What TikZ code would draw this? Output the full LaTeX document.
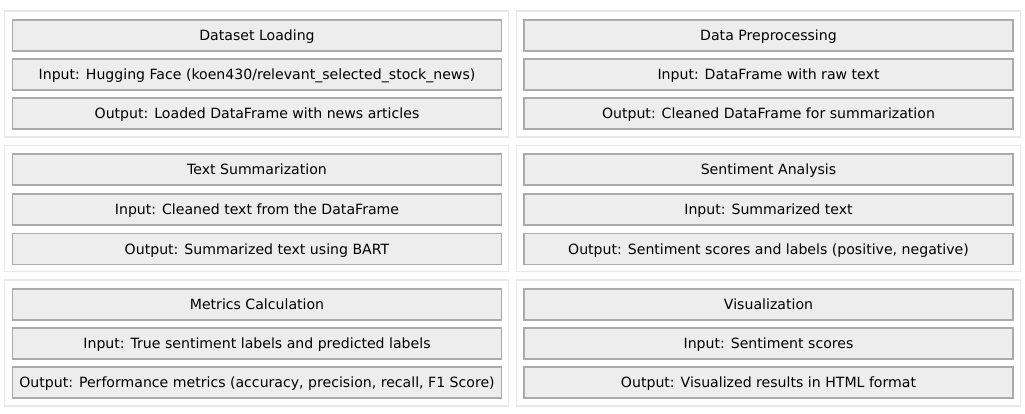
\documentclass[tikz,border=0pt]{standalone}
\usepackage{fontspec}
\setmainfont{DejaVu Sans}
\begin{document}
\begin{tikzpicture}[x=1pt,y=1pt,
  panel/.style={draw=black!9, line width=1.5pt, fill=white, minimum width=504pt, minimum height=126pt, inner sep=0pt},
  stagebox/.style={draw=black!33, line width=1.6pt, fill=black!7, minimum width=489pt, minimum height=31pt, inner sep=0pt,
    text height=10.4pt, text depth=0pt, yshift=-0.6pt, font=\fontsize{14.1}{16}\selectfont, text=black}]
\useasboundingbox[fill=white] (0,0) rectangle (1025,413);
% panel frames (centres in image coordinates: x, 413 - y)
\foreach \nm/\cx/\cy in {p1/256.5/74, p2/768.5/74, p3/256.5/208.5, p4/768.5/208.5, p5/256.5/343, p6/768.5/343}
  \node[panel] (\nm) at (\cx,413-\cy) {};
% Dataset Loading
\node[stagebox] (a1) at (257,413-35) {Dataset Loading};
\node[stagebox] (a2) at (257,413-74) {Input: Hugging Face (koen430/relevant\_selected\_stock\_news)};
\node[stagebox] (a3) at (257,413-113) {Output: Loaded DataFrame with news articles};
% Data Preprocessing
\node[stagebox] (b1) at (768.5,413-35) {Data Preprocessing};
\node[stagebox] (b2) at (768.5,413-74) {Input: DataFrame with raw text};
\node[stagebox] (b3) at (768.5,413-113) {Output: Cleaned DataFrame for summarization};
% Text Summarization
\node[stagebox] (c1) at (257,413-169) {Text Summarization};
\node[stagebox] (c2) at (257,413-209) {Input: Cleaned text from the DataFrame};
\node[stagebox] (c3) at (257,413-248.5) {Output: Summarized text using BART};
% Sentiment Analysis
\node[stagebox] (d1) at (768.5,413-169) {Sentiment Analysis};
\node[stagebox] (d2) at (768.5,413-209) {Input: Summarized text};
\node[stagebox] (d3) at (768.5,413-248.5) {Output: Sentiment scores and labels (positive, negative)};
% Metrics Calculation
\node[stagebox] (e1) at (257,413-304) {Metrics Calculation};
\node[stagebox] (e2) at (257,413-343) {Input: True sentiment labels and predicted labels};
\node[stagebox] (e3) at (257,413-382) {Output: Performance metrics (accuracy, precision, recall, F1 Score)};
% Visualization
\node[stagebox] (f1) at (768.5,413-304) {Visualization};
\node[stagebox] (f2) at (768.5,413-343) {Input: Sentiment scores};
\node[stagebox] (f3) at (768.5,413-382) {Output: Visualized results in HTML format};
\end{tikzpicture}
\end{document}
